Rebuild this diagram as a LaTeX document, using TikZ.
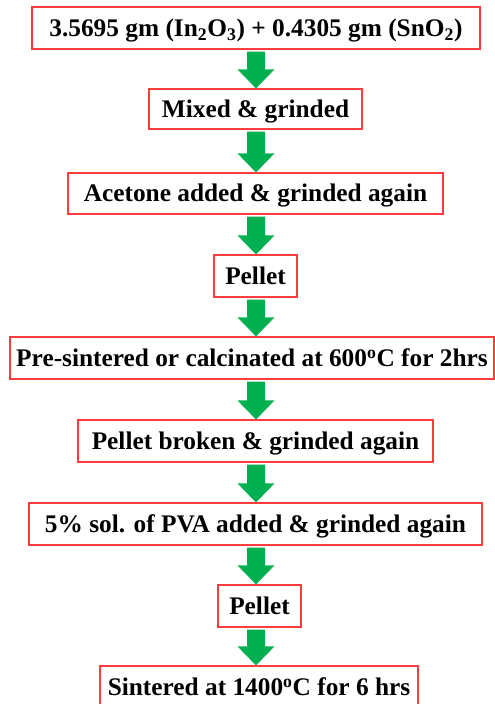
\documentclass[tikz,border=0pt]{standalone}
\usepackage{fontspec}
\setmainfont{Liberation Serif}
\usetikzlibrary{calc}
\definecolor{boxred}{HTML}{FF3B3B}
\definecolor{arrgreen}{HTML}{00B050}
\newcommand{\fatarrow}[2]{%
  \fill[arrgreen]
    ($(axis |- #1.south)+(-9,2)$) -- ($(axis |- #1.south)+(9,2)$) --
    ($(axis |- #2.north)+(9,-19)$) -- ($(axis |- #2.north)+(18.5,-19)$) --
    (axis |- #2.north) --
    ($(axis |- #2.north)+(-18.5,-19)$) -- ($(axis |- #2.north)+(-9,-19)$) -- cycle;}
\begin{document}
\begin{tikzpicture}[x=0.75pt,y=-0.75pt,
  stepbox/.style={draw=boxred,line width=0.9pt,fill=white,inner sep=0pt,
    font=\fontsize{19}{23}\selectfont\bfseries,
    text height=12.6pt,text depth=0pt,align=center}]
\useasboundingbox (0,0) rectangle (495,704);
\fill[white] (0,0) rectangle (495,704);
\coordinate (axis) at (256,0);
\node[stepbox,minimum width=448*0.75pt,minimum height=42*0.75pt] (b1) at (256,28)
  {3.5695 gm (In\textsubscript{2}O\textsubscript{3}) + 0.4305 gm (SnO\textsubscript{2})};
\node[stepbox,minimum width=213*0.75pt,minimum height=40*0.75pt] (b2) at (255.5,109) {Mixed \& grinded};
\node[stepbox,minimum width=375*0.75pt,minimum height=41*0.75pt] (b3) at (255.5,193.5) {Acetone added \& grinded again};
\node[stepbox,minimum width=83*0.75pt,minimum height=42*0.75pt] (b4) at (255.5,276) {Pellet};
\node[stepbox,minimum width=484*0.75pt,minimum height=42*0.75pt] (b5) at (252,358) {Pre-sintered or calcinated at 600\textsuperscript{o}C for 2hrs};
\node[stepbox,minimum width=355*0.75pt,minimum height=42*0.75pt] (b6) at (255.5,441) {Pellet broken \& grinded again};
\node[stepbox,minimum width=453*0.75pt,minimum height=42*0.75pt] (b7) at (255.5,524) {5\% sol. of PVA added \& grinded again};
\node[stepbox,minimum width=83*0.75pt,minimum height=42*0.75pt] (b8) at (259.5,606) {Pellet};
\node[stepbox,minimum width=318*0.75pt,minimum height=42*0.75pt] (b9) at (259,687) {Sintered at 1400\textsuperscript{o}C for 6 hrs};
\fatarrow{b1}{b2}
\fatarrow{b2}{b3}
\fatarrow{b3}{b4}
\fatarrow{b4}{b5}
\fatarrow{b5}{b6}
\fatarrow{b6}{b7}
\fatarrow{b7}{b8}
\fatarrow{b8}{b9}
\end{tikzpicture}
\end{document}
